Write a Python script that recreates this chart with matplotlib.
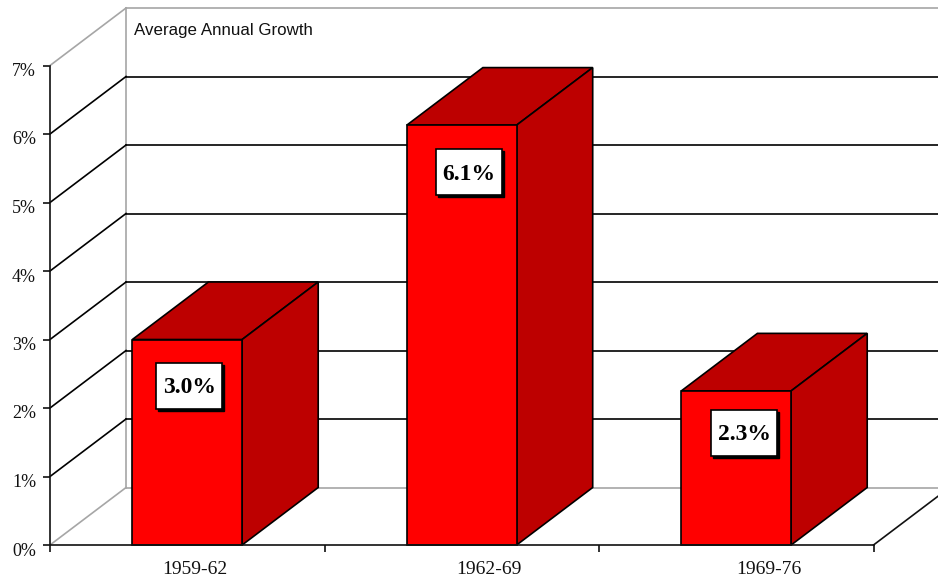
import numpy as np
import matplotlib
matplotlib.use('Agg')
import matplotlib.pyplot as plt
from matplotlib.patches import Rectangle
from matplotlib.transforms import ScaledTranslation

periods = ['1959-62', '1962-69', '1969-76']
growth = [3.0, 6.13, 2.25]  # drawn heights
labels = ['3.0%', '6.1%', '2.3%']
yticks = [0, 1, 2, 3, 4, 5, 6, 7]

# pixel layout of the reference
W, H = 938, 578
left, right, bottom, top = 50, 873.5, 545, 65.5
bar_w = 0.4
depth_x = 76 / 274.3   # category units
depth_y = 57.5 / 68.5  # percent units

grey = '#a6a6a6'
ink = '#111111'
lw = 1.2

fig = plt.figure(figsize=(W / 100, H / 100), dpi=100)
ax = fig.add_axes([left / W, 1 - bottom / H, (right - left) / W, (bottom - top) / H])
ax.set_xlim(0, 3)
ax.set_ylim(0, 7)
for s in ['top', 'right']:
    ax.spines[s].set_visible(False)
for s in ['left', 'bottom']:
    ax.spines[s].set_linewidth(lw)
    ax.spines[s].set_color(ink)
    ax.spines[s].set_zorder(6)

# back wall and side wall
xmax = 3 + depth_x
ax.plot([depth_x, depth_x], [depth_y, 7 + depth_y], color=grey, lw=lw, clip_on=False, zorder=1)
ax.plot([depth_x, xmax], [7 + depth_y] * 2, color=grey, lw=lw, clip_on=False, zorder=1)
ax.plot([depth_x, xmax], [depth_y] * 2, color=grey, lw=lw, clip_on=False, zorder=1)
for v in yticks:
    c = grey if v in (0, 7) else 'black'
    ax.plot([0, depth_x], [v, v + depth_y], color=c, lw=lw, clip_on=False, zorder=2)
    if v not in (0, 7):
        ax.plot([depth_x, xmax], [v + depth_y] * 2, color='black', lw=lw, clip_on=False, zorder=2)
# right edge of the floor
ax.plot([3, xmax], [0, depth_y], color=ink, lw=lw, clip_on=False, zorder=2)

# bars
for i, v in enumerate(growth):
    x0 = i + 0.5 - bar_w / 2
    x1 = x0 + bar_w
    ax.bar(i + 0.5, v, bar_w, color='#ff0000', edgecolor='black', lw=lw, zorder=4, clip_on=False)
    ax.fill([x0, x1, x1 + depth_x, x0 + depth_x], [v, v, v + depth_y, v + depth_y],
            fc='#bd0000', ec='black', lw=lw, zorder=3, clip_on=False)
    ax.fill([x1, x1 + depth_x, x1 + depth_x, x1], [0, depth_y, v + depth_y, v],
            fc='#bd0000', ec='black', lw=lw, zorder=3, clip_on=False)

# value boxes, shadow under the white box
fig.canvas.draw()
box_off = [(2, 46), (7, 47), (8, 42)]  # px from the top of the bar front
box_w, box_h = 66, 46
for i, v in enumerate(growth):
    px, py = ax.transData.transform((i + 0.5, v))
    cx, cy = px + box_off[i][0], py - box_off[i][1]
    ax.add_patch(Rectangle((cx - box_w / 2 + 2, cy - box_h / 2 - 2), box_w, box_h, fc='black', ec='black',
                           lw=1, transform=None, zorder=7, clip_on=False))
    ax.add_patch(Rectangle((cx - box_w / 2, cy - box_h / 2), box_w, box_h, fc='white', ec='black',
                           lw=1.2, transform=None, zorder=8, clip_on=False))
    ax.text(cx, cy - 2, labels[i], transform=None, ha='center', va='center',
            family='Liberation Serif', weight='bold', fontsize=17, color='black', zorder=9)

ax.set_yticks(yticks)
ax.set_yticklabels(['%d%%' % v for v in yticks], family='Liberation Serif', fontsize=13, color=ink)
ax.set_xticks([0, 1, 2, 3])
ax.set_xticklabels([])
ax.set_xticks([0.5, 1.5, 2.5], minor=True)
ax.set_xticklabels(periods, minor=True, family='Liberation Serif', fontsize=14, color=ink)
ax.tick_params(axis='x', which='minor', length=0, pad=11.5)
ax.tick_params(axis='x', which='major', length=5, width=lw, color=ink)
ax.tick_params(axis='y', length=5, width=lw, pad=5, color=ink)

# tick labels sit off their ticks in the reference
for t in ax.get_yticklabels():
    t.set_transform(t.get_transform() + ScaledTranslation(0, -4 / 100, fig.dpi_scale_trans))
for t, shift in zip(ax.get_xticklabels(minor=True), [7.5, 27, 33]):
    t.set_transform(t.get_transform() + ScaledTranslation(shift / 100, 0, fig.dpi_scale_trans))

fig.text(134 / W, 1 - 30 / H, 'Average Annual Growth', family='Liberation Sans',
         fontsize=12.2, va='center', ha='left', color=ink)

fig.savefig('out.png', dpi=100)
